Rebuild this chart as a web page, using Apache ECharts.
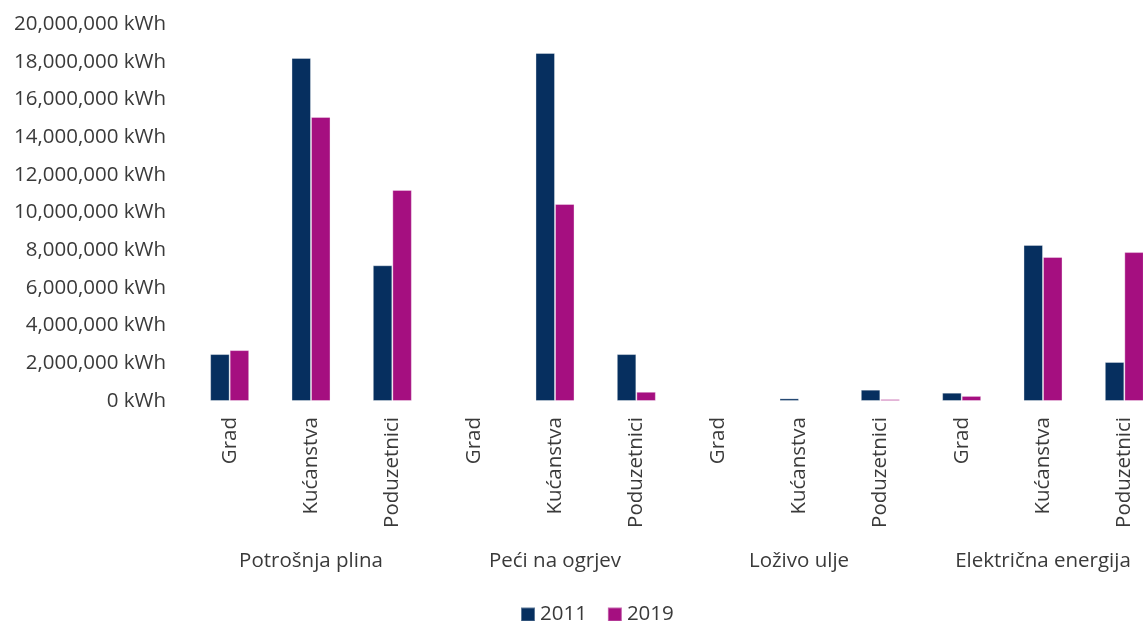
<!DOCTYPE html>
<html>
<head>
<meta charset="utf-8">
<script src="https://cdn.jsdelivr.net/npm/echarts@6/dist/echarts.min.js"></script>
<style>
  html, body { margin: 0; padding: 0; background: #fff; }
  #chart { width: 1143px; height: 621px; }
</style>
</head>
<body>
<div id="chart"></div>
<script>
// podaci
var categories = ['Grad', 'Kućanstva', 'Poduzetnici', 'Grad', 'Kućanstva', 'Poduzetnici',
                  'Grad', 'Kućanstva', 'Poduzetnici', 'Grad', 'Kućanstva', 'Poduzetnici'];
var groups = ['Potrošnja plina', 'Peći na ogrjev', 'Loživo ulje', 'Električna energija'];
var series2011 = [2490000, 18200000, 7200000, 0, 18460000, 2490000, 0, 140000, 600000, 440000, 8280000, 2070000];
var series2019 = [2700000, 15070000, 11200000, 0, 10450000, 490000, 0, 30000, 100000, 270000, 7640000, 7900000];

var textColor = '#3a3a3a';
var font = 'Open Sans';
var fs = 20.5;

var chart = echarts.init(document.getElementById('chart'));
chart.setOption({
  animation: false,
  textStyle: { fontFamily: font },
  color: ['#062f5f', '#a50f80'],
  grid: { left: 189, top: 24, width: 976, height: 377, outerBoundsMode: 'none', containLabel: false },
  legend: {
    top: 599,
    left: 515,
    itemWidth: 14,
    itemHeight: 14,
    itemGap: 20,
    icon: 'rect',
    textStyle: { fontSize: fs, color: textColor, fontFamily: font }
  },
  xAxis: [
    {
      type: 'category',
      data: categories,
      axisLine: { show: false },
      axisTick: { show: false },
      axisLabel: { rotate: 90, margin: 16, fontSize: fs, color: textColor, fontFamily: font, interval: 0 }
    },
    {
      type: 'category',
      data: groups,
      position: 'bottom',
      offset: 140,
      axisLine: { show: false },
      axisTick: { show: false },
      axisLabel: { margin: 10, fontSize: fs, color: textColor, fontFamily: font, interval: 0 }
    }
  ],
  yAxis: {
    type: 'value',
    min: 0,
    max: 20000000,
    interval: 2000000,
    axisLine: { show: false },
    axisTick: { show: false },
    splitLine: { show: false },
    axisLabel: {
      margin: 23,
      fontSize: fs,
      color: textColor,
      fontFamily: font,
      formatter: function (v) { return v.toLocaleString('en-US') + ' kWh'; }
    }
  },
  series: [
    {
      name: '2011', type: 'bar', data: series2011,
      barGap: 0, barCategoryGap: '52%',
      itemStyle: { borderColor: 'rgba(255,255,255,0.35)', borderWidth: 1 }
    },
    {
      name: '2019', type: 'bar', data: series2019,
      barGap: 0, barCategoryGap: '52%',
      itemStyle: { borderColor: 'rgba(255,255,255,0.35)', borderWidth: 1 }
    }
  ]
});
</script>
</body>
</html>
